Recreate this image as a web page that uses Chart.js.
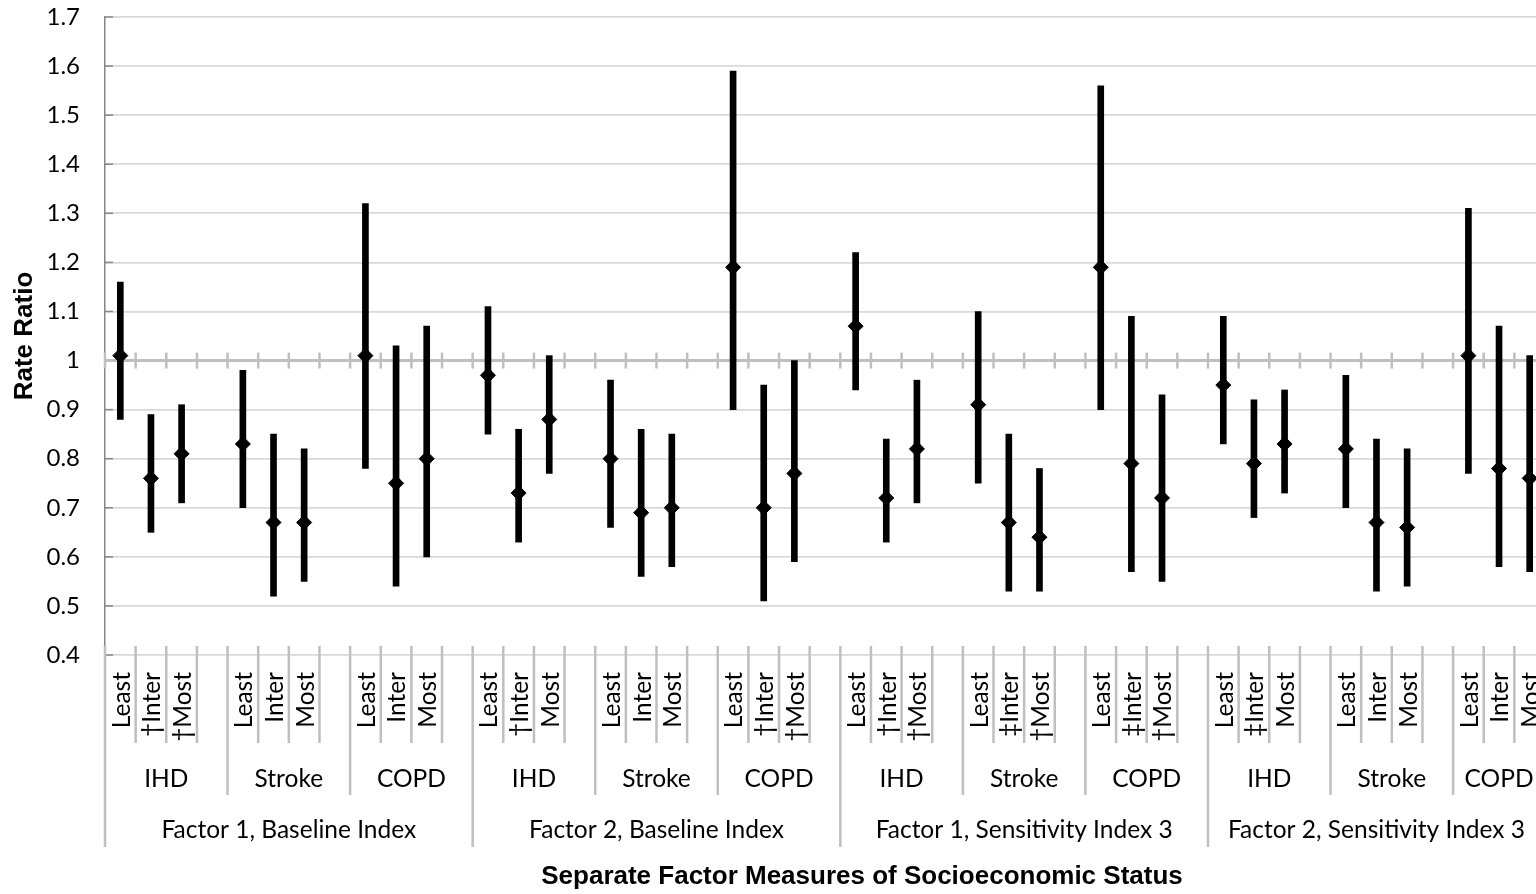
<!DOCTYPE html>
<html><head><meta charset="utf-8">
<style>html,body{margin:0;padding:0;overflow:hidden;background:#fff;}#wrap{position:relative;width:1560px;height:894px;}</style>
<script src="https://cdn.jsdelivr.net/npm/chart.js@4"></script>
</head><body><div id="wrap"><canvas id="c" width="1560" height="894"></canvas></div>
<script>
const groups = ["Factor 1, Baseline Index", "Factor 2, Baseline Index", "Factor 1, Sensitivity Index 3", "Factor 2, Sensitivity Index 3"];
const diseases = ["IHD", "Stroke", "COPD"];
const levelLabels = [
  "Least","†Inter","†Most",  "Least","Inter","Most",  "Least","Inter","Most",
  "Least","†Inter","Most",   "Least","Inter","Most",  "Least","†Inter","†Most",
  "Least","†Inter","†Most",  "Least","‡Inter","†Most","Least","‡Inter","†Most",
  "Least","‡Inter","Most",   "Least","Inter","Most",  "Least","Inter","Most"
];
const estimate = [
  1.01,0.76,0.81, 0.83,0.67,0.67, 1.01,0.75,0.80,
  0.97,0.73,0.88, 0.80,0.69,0.70, 1.19,0.70,0.77,
  1.07,0.72,0.82, 0.91,0.67,0.64, 1.19,0.79,0.72,
  0.95,0.79,0.83, 0.82,0.67,0.66, 1.01,0.78,0.76
];
const lower = [
  0.88,0.65,0.71, 0.70,0.52,0.55, 0.78,0.54,0.60,
  0.85,0.63,0.77, 0.66,0.56,0.58, 0.90,0.51,0.59,
  0.94,0.63,0.71, 0.75,0.53,0.53, 0.90,0.57,0.55,
  0.83,0.68,0.73, 0.70,0.53,0.54, 0.77,0.58,0.57
];
const upper = [
  1.16,0.89,0.91, 0.98,0.85,0.82, 1.32,1.03,1.07,
  1.11,0.86,1.01, 0.96,0.86,0.85, 1.59,0.95,1.00,
  1.22,0.84,0.96, 1.10,0.85,0.78, 1.56,1.09,0.93,
  1.09,0.92,0.94, 0.97,0.84,0.82, 1.31,1.07,1.01
];
const yTickValues = [0.4,0.5,0.6,0.7,0.8,0.9,1.0,1.1,1.2,1.3,1.4,1.5,1.6,1.7];
const yTickLabels = ["0.4","0.5","0.6","0.7","0.8","0.9","1","1.1","1.2","1.3","1.4","1.5","1.6","1.7"];

// build slots: 3 levels per disease, plus a blank slot between diseases
const slotLabels = [], barData = [], pointData = [];
let k = 0;
const nDis = groups.length * diseases.length;
for (let d = 0; d < nDis; d++) {
  for (let l = 0; l < 3; l++) {
    slotLabels.push(levelLabels[k]);
    barData.push([lower[k], upper[k]]);
    pointData.push(estimate[k]);
    k++;
  }
  if (d < nDis - 1) { slotLabels.push(""); barData.push(null); pointData.push(null); }
}
const N = slotLabels.length;
const LABEL_FONT = "24.5px Lato";
const TITLE_FONT = "bold 26px 'Liberation Sans', Arial, sans-serif";

const decor = {
  id: 'decor',
  beforeDatasetsDraw(chart) {
    const {ctx, chartArea: a, scales: {x, y}} = chart;
    const w = x.getPixelForValue(1) - x.getPixelForValue(0);
    const b0 = x.getPixelForValue(0) - w / 2;
    ctx.save();
    ctx.strokeStyle = '#868686'; ctx.lineWidth = 1.5;
    yTickValues.forEach(v => {
      if (Math.abs(v - 1) < 1e-9) return;
      const py = y.getPixelForValue(v);
      ctx.beginPath(); ctx.moveTo(a.left, py); ctx.lineTo(a.left + 8, py); ctx.stroke();
    });
    const y1 = y.getPixelForValue(1);
    ctx.strokeStyle = '#bfbfbf'; ctx.lineWidth = 2.5;
    for (let b = 0; b <= N; b++) {
      const px = b0 + b * w;
      ctx.beginPath(); ctx.moveTo(px, y1 - 8); ctx.lineTo(px, y1 + 8); ctx.stroke();
    }
    ctx.restore();
  },
  afterDraw(chart) {
    const {ctx, chartArea: a, scales: {x, y}} = chart;
    const w = x.getPixelForValue(1) - x.getPixelForValue(0);
    const b0 = x.getPixelForValue(0) - w / 2;
    ctx.save();
    ctx.strokeStyle = '#bfbfbf'; ctx.lineWidth = 2.5;
    for (let b = 0; b <= N; b++) {
      const px = b0 + b * w;
      const end = (b % 12 === 0 || b === N) ? 847 : (b % 4 === 0 ? 795 : 743);
      ctx.beginPath(); ctx.moveTo(px, a.bottom - 9); ctx.lineTo(px, end); ctx.stroke();
    }
    ctx.fillStyle = '#000';
    ctx.font = LABEL_FONT;
    for (let i = 0; i < N; i++) {
      if (!slotLabels[i]) continue;
      const cx = x.getPixelForValue(i) + 1.5;
      ctx.save();
      ctx.translate(cx, 672);
      ctx.rotate(-Math.PI / 2);
      ctx.textAlign = 'right'; ctx.textBaseline = 'middle';
      ctx.fillText(slotLabels[i], 0, 0);
      ctx.restore();
    }
    ctx.textAlign = 'center'; ctx.textBaseline = 'alphabetic';
    for (let d = 0; d < nDis; d++) {
      const s = d * 4, e = Math.min(d * 4 + 4, N);
      ctx.fillText(diseases[d % 3], b0 + (s + e) / 2 * w, 787);
    }
    for (let g = 0; g < groups.length; g++) {
      const s = g * 12, e = Math.min(g * 12 + 12, N);
      ctx.fillText(groups[g], b0 + (s + e) / 2 * w, 838);
    }
    ctx.font = TITLE_FONT;
    ctx.fillText("Separate Factor Measures of Socioeconomic Status", 862, 884);
    ctx.save();
    ctx.translate(25, (a.top + a.bottom) / 2);
    ctx.rotate(-Math.PI / 2);
    ctx.textBaseline = 'middle';
    ctx.fillText("Rate Ratio", 0, 0);
    ctx.restore();
    ctx.restore();
  }
};

new Chart(document.getElementById('c'), {
  type: 'bar',
  data: {
    labels: slotLabels,
    datasets: [
      {type: 'line', data: pointData, showLine: false, pointStyle: 'rectRot', pointRadius: 7.5,
       pointBackgroundColor: '#000', pointBorderColor: '#000', pointBorderWidth: 1, order: 0},
      {type: 'bar', data: barData, backgroundColor: '#000', barThickness: 6, borderWidth: 0, order: 1}
    ]
  },
  options: {
    responsive: false, animation: false, devicePixelRatio: 1,
    layout: {padding: {top: 17, right: 15, bottom: 239, left: 0}},
    plugins: {legend: {display: false}, tooltip: {enabled: false}},
    scales: {
      x: {display: false, offset: true},
      y: {
        min: 0.4, max: 1.7,
        afterFit(s) { s.width = 105; s.paddingTop = 0; s.paddingBottom = 0; },
        afterBuildTicks(s) { s.ticks = yTickValues.map(v => ({value: v})); },
        ticks: {callback: (v, i) => yTickLabels[i], padding: 25, color: '#000', font: {family: 'Lato', size: 24}},
        grid: {
          drawTicks: false,
          color: c => (c.tick && Math.abs(c.tick.value - 1) < 1e-9) ? '#bfbfbf' : '#d9d9d9',
          lineWidth: c => (c.tick && Math.abs(c.tick.value - 1) < 1e-9) ? 3 : 1.75
        },
        border: {color: '#868686', width: 1.5}
      }
    }
  },
  plugins: [decor]
});
</script>
</body></html>
